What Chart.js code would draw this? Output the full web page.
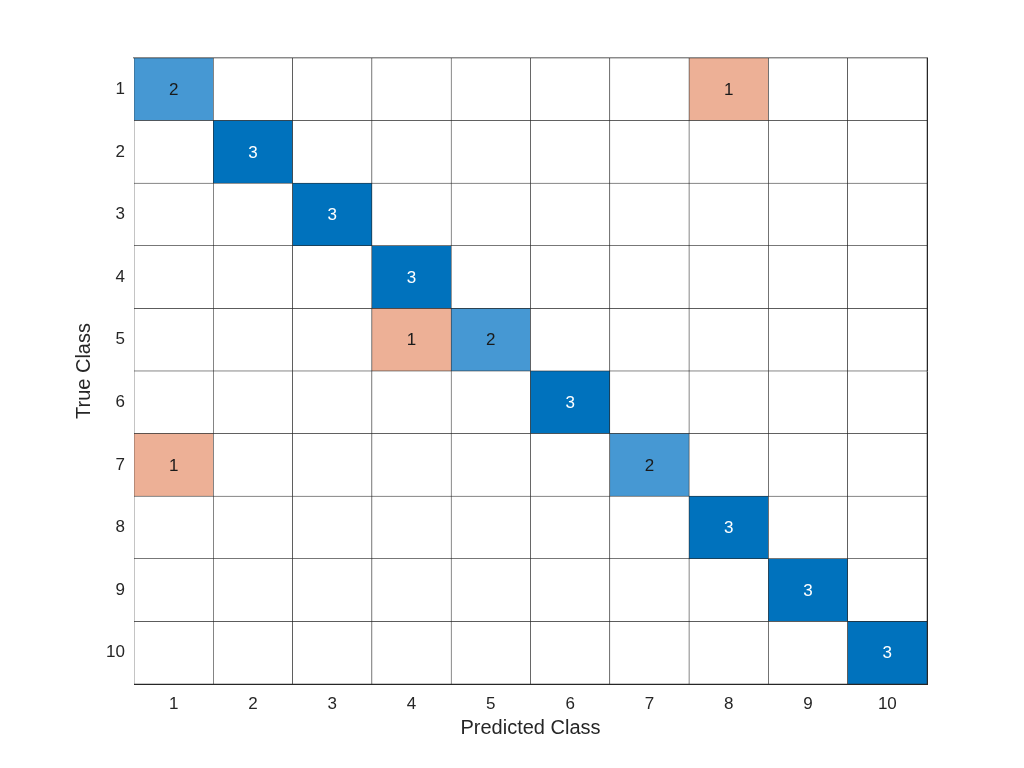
<!DOCTYPE html>
<html>
<head>
<meta charset="utf-8">
<title>Confusion Chart</title>
<script src="https://cdn.jsdelivr.net/npm/chart.js@4"></script>
<style>
  body { margin: 0; background: #fff; }
  canvas { display: block; }
</style>
</head>
<body>
<canvas id="cm" width="1024" height="768"></canvas>
<script>
// class labels (same for both axes)
const classes = ['1', '2', '3', '4', '5', '6', '7', '8', '9', '10'];

// non-zero cells of the matrix
const trueClass = [1, 1, 2, 3, 4, 5, 5, 6, 7, 7, 8, 9, 10];
const predClass = [1, 8, 2, 3, 4, 4, 5, 6, 1, 7, 8, 9, 10];
const counts    = [2, 1, 3, 3, 3, 1, 2, 3, 1, 2, 3, 3, 3];

const maxCount = Math.max(...counts);

// colours like the matlab confusionchart
function cellColor(t, p, v) {
    if (v === 0) return '#ffffff';
    if (t === p) return v === maxCount ? '#0072BD' : '#4698D3';
    return '#EDB096';
}

// build all 100 cells so the grid is drawn from the bars too
let cells = [];
for (let r = 1; r <= classes.length; r++) {
    for (let c = 1; c <= classes.length; c++) {
        let v = 0;
        for (let k = 0; k < counts.length; k++) {
            if (trueClass[k] === r && predClass[k] === c) v = counts[k];
        }
        cells.push({ x: classes[c - 1], y: [r - 0.5, r + 0.5], v: v, t: r, p: c });
    }
}

const fontFam = '"Liberation Sans", Arial, Helvetica, sans-serif';

// write the counts in the middle of the cells
const cellText = {
    id: 'cellText',
    afterDatasetsDraw(chart) {
        const ctx = chart.ctx;
        const meta = chart.getDatasetMeta(0);
        ctx.save();
        ctx.font = '17px ' + fontFam;
        ctx.textAlign = 'center';
        ctx.textBaseline = 'middle';
        meta.data.forEach(function (bar, i) {
            const d = cells[i];
            if (!d.v) return;
            ctx.fillStyle = d.v === maxCount ? '#ffffff' : '#1a1a1a';
            ctx.fillText(String(d.v), bar.x, (bar.y + bar.base) / 2 + 1);
        });
        ctx.restore();
    }
};

const ctx = document.getElementById('cm').getContext('2d');
const chart = new Chart(ctx, {
    type: 'bar',
    data: {
        labels: classes,
        datasets: [{
            data: cells,
            backgroundColor: cells.map(d => cellColor(d.t, d.p, d.v)),
            borderColor: '#262626',
            borderWidth: 0.6,
            borderSkipped: false,
            barPercentage: 1,
            categoryPercentage: 1
        }]
    },
    options: {
        responsive: false,
        animation: false,
        layout: { padding: { left: 72, top: 58, right: 97, bottom: 28 } },
        plugins: {
            legend: { display: false },
            tooltip: { enabled: false }
        },
        scales: {
            x: {
                type: 'category',
                grid: { display: false, drawTicks: false },
                border: { display: true, color: '#262626', width: 1 },
                ticks: { color: '#262626', padding: 10, font: { family: fontFam, size: 17 } },
                title: {
                    display: true, text: 'Predicted Class', color: '#262626',
                    padding: 0, font: { family: fontFam, size: 20 }
                },
                afterFit: function (axis) { axis.height = 56; }
            },
            // top and right edges of the box
            xTop: {
                type: 'category',
                position: 'top',
                grid: { display: false, drawTicks: false },
                border: { display: true, color: '#8a8a8a', width: 1.5 },
                ticks: { display: false },
                afterFit: function (axis) { axis.height = 0; }
            },
            y: {
                type: 'linear',
                min: 0.5,
                max: 10.5,
                reverse: true,
                grid: { display: false, drawTicks: false },
                border: { display: true, color: '#262626', width: 1 },
                afterBuildTicks: function (axis) {
                    axis.ticks = classes.map((c, i) => ({ value: i + 1 }));
                },
                ticks: {
                    color: '#262626', padding: 9, font: { family: fontFam, size: 17 },
                    callback: function (value) { return classes[value - 1]; }
                },
                title: {
                    display: true, text: 'True Class', color: '#262626',
                    padding: 0, font: { family: fontFam, size: 20 }
                },
                afterFit: function (axis) { axis.width = 62; }
            },
            yRight: {
                type: 'linear',
                position: 'right',
                min: 0.5,
                max: 10.5,
                grid: { display: false, drawTicks: false },
                border: { display: true, color: '#262626', width: 1 },
                ticks: { display: false },
                afterFit: function (axis) { axis.width = 0; }
            }
        }
    },
    plugins: [cellText]
});
</script>
</body>
</html>
